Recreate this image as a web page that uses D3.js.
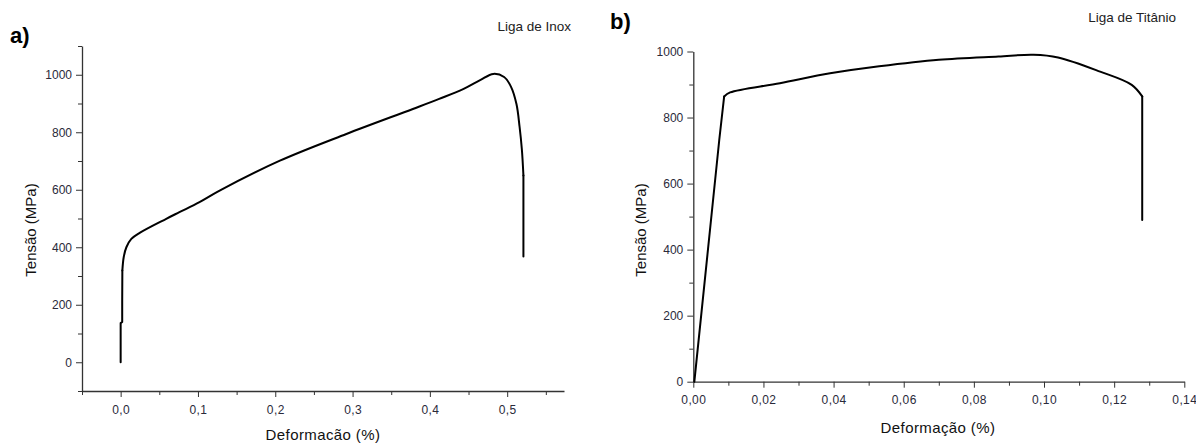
<!DOCTYPE html>
<html>
<head>
<meta charset="utf-8">
<script src="https://cdn.jsdelivr.net/npm/d3@7"></script>
<style>
  body { margin: 0; background: #fff; }
  svg { display: block; font-family: "Liberation Sans", Arial, sans-serif; }
  .tick text { fill: #2a2a3a; font-size: 12px; }
  .domain, .tick line { stroke: #333; }
</style>
</head>
<body>
<svg id="mainsvg" width="1196" height="443"></svg>
<script>
// ---- data ----
// a) stainless steel
const inoxStrain = [0, 0, 0.002, 0.002, 0.0022, 0.004, 0.0074, 0.0138, 0.0246, 0.059, 0.076, 0.102, 0.128,
  0.206, 0.292, 0.378, 0.412, 0.443, 0.465, 0.482, 0.496, 0.505, 0.512, 0.516, 0.519, 0.521, 0.521];
const inoxStress = [0, 136, 140, 215, 319, 366, 400, 429, 450, 499, 522, 557, 597,
  701, 794, 881, 916, 950, 981, 1003, 992, 958, 898, 820, 740, 650, 368];
// b) titanium alloy
const tiStrain = [0.0003, 0.0074, 0.0088, 0.0105, 0.0247, 0.039, 0.053, 0.070, 0.087, 0.097,
  0.104, 0.116, 0.125, 0.128, 0.128];
const tiStress = [0, 732, 864, 876, 904, 934, 955, 975, 985, 990,
  982, 939, 899, 864, 490];

const inoxXTicks = [0, 0.1, 0.2, 0.3, 0.4, 0.5];
const inoxXMinor = [-0.05, 0.05, 0.15, 0.25, 0.35, 0.45, 0.55];
const inoxYTicks = [0, 200, 400, 600, 800, 1000];
const inoxYMinor = [-100, 100, 300, 500, 700, 900, 1100];
const tiXTicks = [0, 0.02, 0.04, 0.06, 0.08, 0.10, 0.12, 0.14];
const tiXMinor = [0.01, 0.03, 0.05, 0.07, 0.09, 0.11, 0.13];
const tiYTicks = [0, 200, 400, 600, 800, 1000];
const tiYMinor = [100, 300, 500, 700, 900];

const svg = d3.select('#mainsvg');
const comma = f => v => d3.format(f)(v).replace('.', ',');

function panel(opt) {
  const g = svg.append('g');
  const x = d3.scaleLinear().domain(opt.xDomain).range(opt.xRange);
  const y = d3.scaleLinear().domain(opt.yDomain).range(opt.yRange);

  // minor ticks
  g.append('g').attr('transform', `translate(0,${opt.yRange[0]})`)
    .call(d3.axisBottom(x).tickValues(opt.xMinor).tickSize(4).tickFormat(''))
    .call(a => a.select('.domain').remove());
  g.append('g').attr('transform', `translate(${opt.xRange[0]},0)`)
    .call(d3.axisLeft(y).tickValues(opt.yMinor).tickSize(4).tickFormat(''))
    .call(a => a.select('.domain').remove());

  // major axes
  g.append('g').attr('transform', `translate(0,${opt.yRange[0]})`)
    .call(d3.axisBottom(x).tickValues(opt.xTicks).tickSize(6).tickSizeOuter(0)
      .tickPadding(8).tickFormat(comma(opt.xFmt)))
    .call(a => a.selectAll('text').attr('letter-spacing', '0.4px'));
  g.append('g').attr('transform', `translate(${opt.xRange[0]},0)`)
    .call(d3.axisLeft(y).tickValues(opt.yTicks).tickSize(6).tickSizeOuter(0)
      .tickPadding(4).tickFormat(d3.format('d')));
  g.selectAll('.domain').attr('stroke-width', 1.3);

  // straight pieces at the ends, smooth curve in between
  const pts = d3.zip(opt.xs, opt.ys);
  const [s, e] = opt.smooth;
  const pieces = [
    [pts.slice(0, s + 1), d3.curveLinear],
    [pts.slice(s, e + 1), d3.curveCatmullRom.alpha(0.5)],
    [pts.slice(e), d3.curveLinear]
  ];
  pieces.forEach(([p, c]) => {
    g.append('path').datum(p)
      .attr('fill', 'none').attr('stroke', '#000').attr('stroke-width', 2)
      .attr('stroke-linejoin', 'round').attr('stroke-linecap', 'round')
      .attr('d', d3.line().x(d => x(d[0])).y(d => y(d[1])).curve(c));
  });

  // texts
  g.append('text').attr('x', opt.labelPos[0]).attr('y', opt.labelPos[1])
    .attr('font-size', 22).attr('font-weight', 'bold').attr('fill', '#000').text(opt.label);
  g.append('text').attr('x', opt.titlePos[0]).attr('y', opt.titlePos[1])
    .attr('font-size', 13.5).attr('text-anchor', 'end').attr('fill', '#222').text(opt.title);
  g.append('text').attr('x', opt.xTitlePos[0]).attr('y', opt.xTitlePos[1])
    .attr('font-size', 15).attr('text-anchor', 'middle').attr('fill', '#111')
    .attr('letter-spacing', '0.4px').text(opt.xTitle);
  g.append('text')
    .attr('transform', `translate(${opt.yTitlePos[0]},${opt.yTitlePos[1]}) rotate(-90)`)
    .attr('font-size', 15).attr('text-anchor', 'middle').attr('fill', '#111').text('Tensão (MPa)');
}

panel({
  xDomain: [-0.05, 0.5735], xRange: [82, 564],
  yDomain: [-100, 1100], yRange: [391, 46],
  xTicks: inoxXTicks, xMinor: inoxXMinor, yTicks: inoxYTicks, yMinor: inoxYMinor,
  xFmt: '.1f', xs: inoxStrain, ys: inoxStress, smooth: [4, 25],
  label: 'a)', labelPos: [10, 43],
  title: 'Liga de Inox', titlePos: [571, 31],
  xTitle: 'Deformacão (%)', xTitlePos: [323, 440],
  yTitlePos: [36, 230]
});

panel({
  xDomain: [0, 0.14], xRange: [693.3, 1184.3],
  yDomain: [0, 1000], yRange: [381.7, 51.5],
  xTicks: tiXTicks, xMinor: tiXMinor, yTicks: tiYTicks, yMinor: tiYMinor,
  xFmt: '.2f', xs: tiStrain, ys: tiStress, smooth: [2, 13],
  label: 'b)', labelPos: [610, 29],
  title: 'Liga de Titânio', titlePos: [1176, 22],
  xTitle: 'Deformação (%)', xTitlePos: [938, 433],
  yTitlePos: [646, 230]
});
</script>
</body>
</html>
